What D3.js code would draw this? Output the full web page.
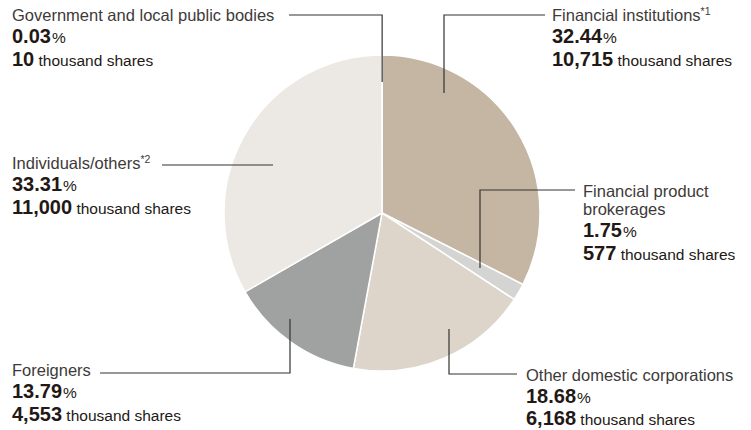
<!DOCTYPE html>
<html>
<head>
<meta charset="utf-8">
<title>Shareholders by type</title>
<script src="https://cdn.jsdelivr.net/npm/d3@7"></script>
<style>
  body { margin: 0; background: #fff; }
  svg text { font-family: "Liberation Sans", Arial, sans-serif; }
</style>
</head>
<body>
<svg id="chart"></svg>
<script>
// data (clockwise from 12 o'clock)
var categories = ['Government and local public bodies', 'Financial institutions*1', 'Financial product brokerages',
                  'Other domestic corporations', 'Foreigners', 'Individuals/others*2']
var percents = [0.03, 32.44, 1.75, 18.68, 13.79, 33.31]
var shares = ['10', '10,715', '577', '6,168', '4,553', '11,000']
var colors = ['#8f8173', '#c4b6a2', '#d4d4d3', '#ddd5ca', '#a0a2a1', '#ece9e4']

// label layout: text position + leader line (horizontal y, line start x, elbow x, end y)
var labels = [
    { lines: ['Government and local public bodies'], x: 12, y: 21, hy: 15, hx0: 289, vx: null, ey: 82 },
    { lines: ['Financial institutions', '*1'], x: 552, y: 21, hy: 15, hx0: 545, vx: 444, ey: 93 },
    { lines: ['Financial product', 'brokerages'], x: 583, y: 197, hy: 190, hx0: 575, vx: 480, ey: 268 },
    { lines: ['Other domestic corporations'], x: 526, y: 381, hy: 374, hx0: 517, vx: 449, ey: 329 },
    { lines: ['Foreigners'], x: 12, y: 376, hy: 373, hx0: 100, vx: 290, ey: 319 },
    { lines: ['Individuals/others', '*2'], x: 12, y: 169, hy: 165, hx0: 162, vx: null, ey: null, ex: 273 }
]

var width = 751, height = 430
var cx = 382, cy = 213, radius = 158

var svg = d3.select('#chart')
    .attr('width', width)
    .attr('height', height)

var pie = d3.pie().sort(null).value(function (d) { return d })
var arc = d3.arc().innerRadius(0).outerRadius(radius)
var arcs = pie(percents)

var g = svg.append('g').attr('transform', `translate(${cx},${cy})`)
g.selectAll('path')
    .data(arcs)
    .enter().append('path')
    .attr('d', arc)
    .attr('fill', function (d, i) { return colors[i] })
    .attr('stroke', '#fff')
    .attr('stroke-width', 1.5)

// leader lines
var lineColor = '#353331'
labels.forEach(function (l, i) {
    var pts
    if (i == 0) {
        // straight down at the thin government slice
        var a = (arcs[0].startAngle + arcs[0].endAngle) / 2
        var vx = cx + Math.sin(a) * radius
        pts = [[l.hx0, l.hy], [vx, l.hy], [vx, l.ey]]
    } else if (l.vx == null) {
        pts = [[l.hx0, l.hy], [l.ex, l.hy]]
    } else {
        pts = [[l.hx0, l.hy], [l.vx, l.hy], [l.vx, l.ey]]
    }
    svg.append('path')
        .attr('d', d3.line()(pts))
        .attr('fill', 'none')
        .attr('stroke', lineColor)
        .attr('stroke-width', 1.2)
})

// label texts
labels.forEach(function (l, i) {
    var y = l.y
    var t = svg.append('text').attr('x', l.x).attr('y', y)
        .attr('fill', '#3e3a39').style('font-size', '16.5px')
    if (l.lines.length == 2 && l.lines[1].charAt(0) == '*') {
        t.append('tspan').text(l.lines[0])
        t.append('tspan').text(l.lines[1]).style('font-size', '10.5px').attr('dy', -6)
    } else {
        t.text(l.lines[0])
        if (l.lines.length == 2) {
            y += 18
            svg.append('text').attr('x', l.x).attr('y', y)
                .attr('fill', '#3e3a39').style('font-size', '16.5px')
                .text(l.lines[1])
        }
    }
    y += 22
    var p = svg.append('text').attr('x', l.x).attr('y', y).attr('fill', '#231815')
    p.append('tspan').text(percents[i].toFixed(2)).style('font-size', '20px').style('font-weight', 'bold')
    p.append('tspan').text('%').style('font-size', '15.5px').attr('dx', 1)
    y += (i == 3 ? 22 : 23)
    var s = svg.append('text').attr('x', l.x).attr('y', y).attr('fill', '#231815')
    s.append('tspan').text(shares[i]).style('font-size', '20px').style('font-weight', 'bold')
    s.append('tspan').text(' thousand shares').style('font-size', '15.5px')
})
</script>
</body>
</html>
